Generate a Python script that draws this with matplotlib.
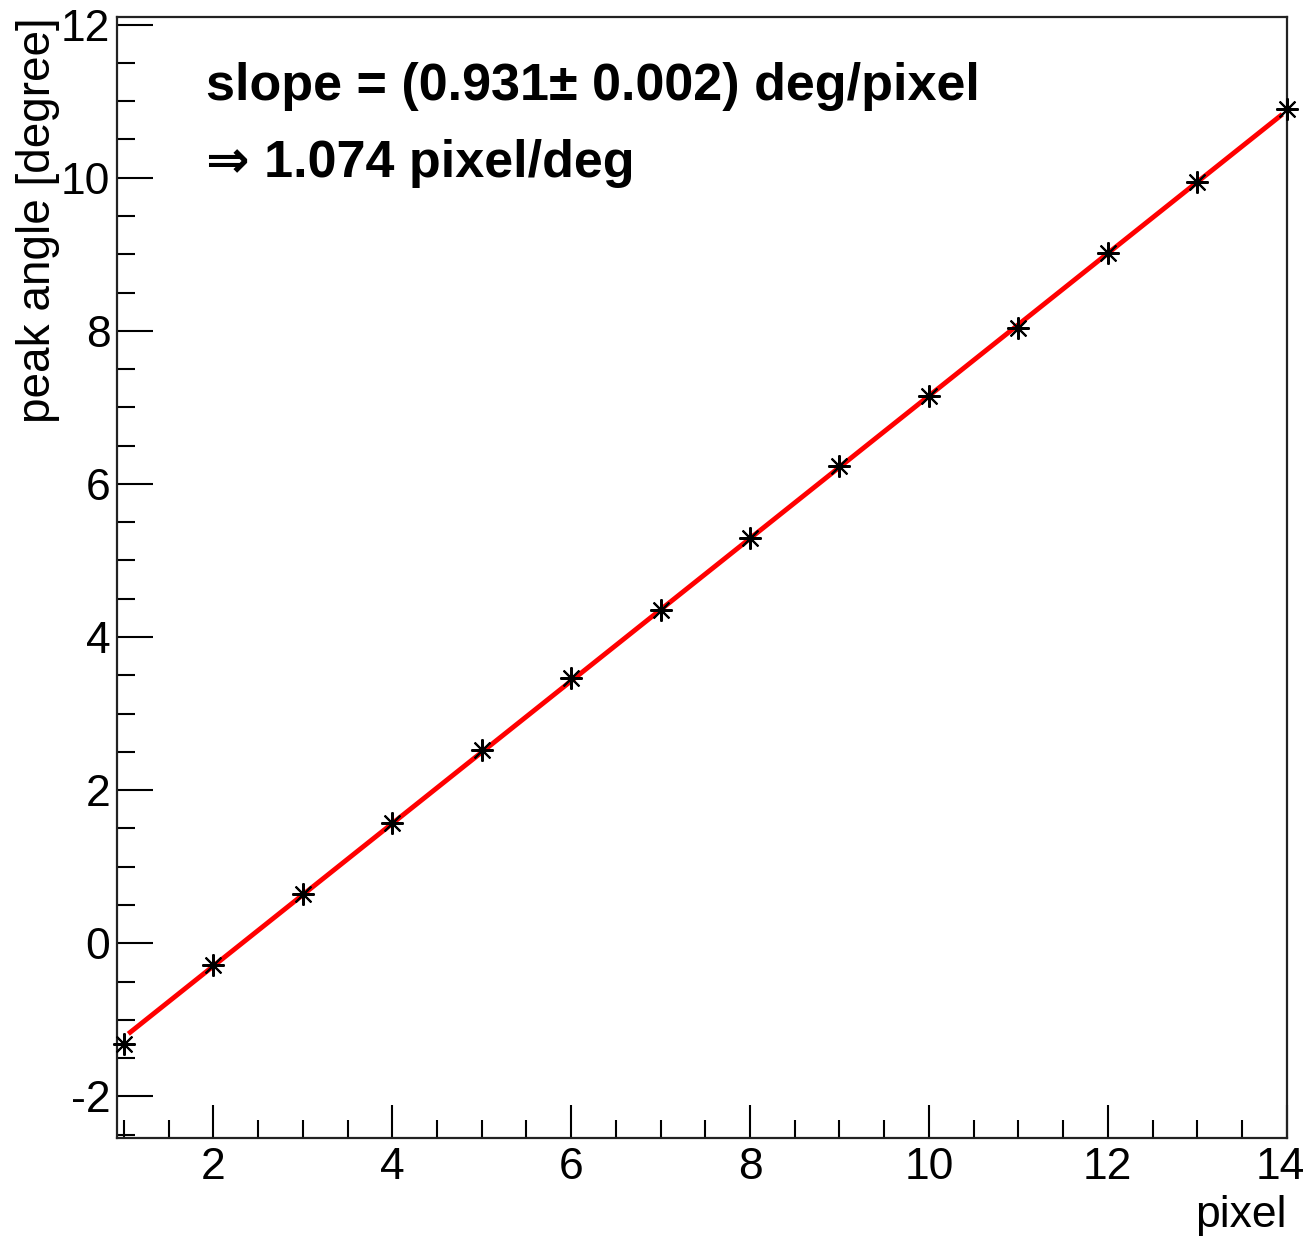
import numpy as np
import matplotlib
matplotlib.use('Agg')
import matplotlib.pyplot as plt
from matplotlib.ticker import MultipleLocator
from matplotlib.transforms import ScaledTranslation

plt.rcParams['font.family'] = ['Liberation Sans', 'DejaVu Sans']
plt.rcParams['axes.unicode_minus'] = False

# Measured peak positions
pixel = [1, 2, 3, 4, 5, 6, 7, 8, 9, 10, 11, 12, 13, 14]
peak_angle = [-1.32, -0.29, 0.64, 1.57, 2.53, 3.47, 4.35, 5.29, 6.23, 7.15, 8.04, 9.01, 9.94, 10.90]

# Linear fit result
fit_slope = 0.931
fit_offset = -2.16
fit_range = [1.07, 13.93]

fig = plt.figure(figsize=(13.08, 12.37), dpi=100)
ax = fig.add_axes([0.0897, 0.0803, 0.8940, 0.9060])

xf = np.linspace(fit_range[0], fit_range[1], 200)
ax.plot(xf, fit_slope * xf + fit_offset, color='red', lw=3.5, zorder=2)
ax.plot(pixel, peak_angle, linestyle='none', marker=(8, 2, 0), markersize=16,
        markeredgewidth=1.5, color='black', zorder=3, clip_on=False)

ax.set_xlim(0.926, 14.0)
ax.set_ylim(-2.54, 12.1)

ax.xaxis.set_major_locator(MultipleLocator(2))
ax.xaxis.set_minor_locator(MultipleLocator(0.5))
ax.yaxis.set_major_locator(MultipleLocator(2))
ax.yaxis.set_minor_locator(MultipleLocator(0.5))

ax.tick_params(axis='both', which='both', direction='in', width=1.5, colors='black',
               top=False, right=False, labelsize=32)
ax.tick_params(axis='y', which='major', length=26, pad=5)
ax.tick_params(axis='y', which='minor', length=13)
ax.tick_params(axis='x', which='major', length=24, pad=7)
ax.tick_params(axis='x', which='minor', length=13)

for s in ax.spines.values():
    s.set_linewidth(1.6)
    s.set_color('#222222')

# Axis titles in ROOT style: right/top aligned
fig.text(16 / 1308, 1 - 17 / 1237, 'peak angle [degree]', rotation=90,
         ha='left', va='top', fontsize=33)
fig.text(1287 / 1308, 1 - 1236 / 1237, 'pixel', ha='right', va='bottom', fontsize=32)

ax.text(206, 1237 - 100, 'slope = (0.931\u00b1 0.002) deg/pixel', transform=None,
        fontsize=37.5, fontweight='bold', va='baseline', ha='left')
ax.text(206, 1237 - 177, '\u21d2 1.074 pixel/deg', transform=None,
        fontsize=37.5, fontweight='bold', va='baseline', ha='left')

# keep the last x label inside the canvas
fig.canvas.draw()
for lab in ax.get_xticklabels():
    if lab.get_text() == '14':
        lab.set_transform(lab.get_transform() + ScaledTranslation(-0.06, 0, fig.dpi_scale_trans))

fig.savefig('out.png', dpi=100)
